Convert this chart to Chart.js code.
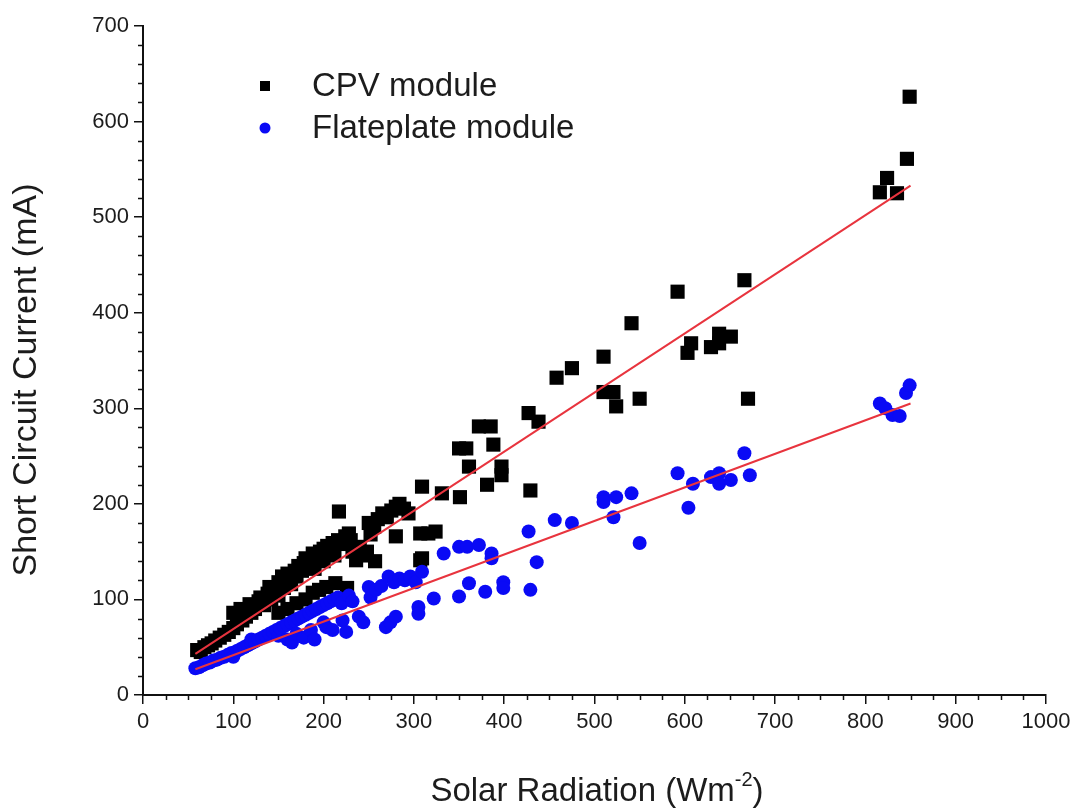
<!DOCTYPE html>
<html>
<head>
<meta charset="utf-8">
<script src="https://cdn.jsdelivr.net/npm/chart.js@4.4.1/dist/chart.umd.min.js"></script>
<style>
  html,body{margin:0;padding:0;background:#fff}
  #wrap{width:1088px;height:810px}
</style>
</head>
<body>
<div id="wrap"><canvas id="c" width="1088" height="810"></canvas></div>
<script>
/* Short circuit current vs solar radiation — CPV vs flat plate */
const seriesNames = ['CPV module', 'Flateplate module'];
const xLabel = ['Solar Radiation (Wm', '-2', ')'];   // text, superscript, tail
const yLabel = 'Short Circuit Current (mA)';

// CPV module (black squares)
const cpvX = [60,64,68,72,76,80,85,90,95,100,100,104,108,110,114,118,120,124,128,130,134,138,140,142,146,150,150,154,156,160,
  160,164,168,170,172,176,178,180,184,188,190,192,196,200,200,204,208,210,212,216,217,220,224,228,230,232,236,240,244,248,
  250,252,256,260,265,270,275,280,284,289,294,280,309,307,324,307,316,331,351,350,358,361,372,385,388,381,397,397,427,438,
  429,458,475,510,541,510,521,524,550,592,603,607,629,638,651,638,666,670,816,824,835,846,849,
  150,160,170,180,188,195,203,213,226,257,309];
const cpvY = [47,45,50,52,54,57,60,63,66,86,70,74,90,78,82,95,86,90,98,102,94,106,113,100,110,118,104,124,112,120,
  127,116,130,124,135,130,138,143,136,148,132,144,150,153,140,156,150,159,146,162,192,158,166,169,162,150,141,155,146,150,
  180,168,176,184,190,186,193,197,200,195,190,166,218,169,171,141,169,211,207,258,258,239,281,281,262,220,239,230,295,286,
  214,332,342,354,389,317,317,302,310,422,358,368,364,378,375,368,434,310,526,541,525,561,626,
  86,90,96,100,107,110,113,117,112,140,143];

// Flateplate module (blue circles)
const flatX = [58,62,66,70,74,78,82,86,90,94,98,100,104,108,112,116,120,120,124,128,132,136,140,144,148,150,152,156,160,160,
  164,165,168,170,172,176,178,180,184,186,188,190,192,196,200,200,203,204,208,210,212,216,220,221,225,228,232,239,244,250,
  252,258,264,269,272,274,278,280,284,290,296,302,305,305,309,322,333,350,350,359,361,372,379,386,386,399,399,427,429,436,
  456,475,510,510,521,524,541,550,592,604,609,629,638,638,651,666,672,816,822,830,838,845,849];
const flatY = [28,29,31,33,34,36,37,39,40,42,44,40,46,48,50,52,54,58,56,58,60,62,64,66,68,62,70,72,58,74,
  76,55,78,64,80,82,60,84,86,68,88,58,90,92,76,94,71,96,98,68,100,102,96,78,66,104,98,82,76,113,
  102,110,114,71,124,76,118,82,122,120,124,118,92,85,129,101,148,155,103,155,117,157,108,148,143,118,112,171,110,139,
  183,180,207,202,186,207,211,159,232,196,221,228,232,221,225,253,230,305,300,293,292,316,324];

// linear fits (end points)
const cpvFitX = [58, 850];
const cpvFitY = [43, 533];
const flatFitX = [58, 850];
const flatFitY = [27, 305];

// axis ticks
const xMajor = [0,100,200,300,400,500,600,700,800,900,1000];
const yMajor = [0,100,200,300,400,500,600,700];

const INK = '#111', TXT = '#1c1c1c', BLUE = '#0a0af5', RED = '#e8343e';
const FONT = "'Liberation Sans', Arial, sans-serif";

const pts = (xs, ys) => xs.map((x, i) => ({x, y: ys[i]}));

// minor tick marks (25 on x, 20 on y), outward like the majors
const minorTicks = {
  id: 'minorTicks',
  afterDraw(chart) {
    const {ctx, scales: {x, y}} = chart;
    ctx.save();
    ctx.strokeStyle = INK; ctx.lineWidth = 1.5;
    ctx.beginPath();
    for (let v = 25; v < 1000; v += 25) {
      if (v % 100 === 0) continue;
      const px = Math.round(x.getPixelForValue(v)) + .5;
      ctx.moveTo(px, y.bottom); ctx.lineTo(px, y.bottom + 5);
    }
    for (let v = 20; v < 700; v += 20) {
      if (v % 100 === 0) continue;
      const py = Math.round(y.getPixelForValue(v)) + .5;
      ctx.moveTo(x.left, py); ctx.lineTo(x.left - 5, py);
    }
    ctx.stroke();
    ctx.restore();
  }
};

// legend in the upper-left of the plot, like the original
const legendBox = {
  id: 'legendBox',
  afterDraw(chart) {
    const {ctx} = chart;
    const ds = chart.data.datasets.filter(d => d.type === 'scatter');
    ctx.save();
    ctx.font = '33px ' + FONT;
    ctx.textBaseline = 'middle';
    ds.forEach((d, i) => {
      const cy = 86 + i * 42;
      ctx.fillStyle = d.backgroundColor;
      if (d.pointStyle === 'rect') ctx.fillRect(260, cy - 5, 10, 10);
      else { ctx.beginPath(); ctx.arc(265, cy, 5.5, 0, Math.PI * 2); ctx.fill(); }
      ctx.fillStyle = TXT;
      ctx.fillText(d.label, 312, cy + 1);
    });
    ctx.restore();
  }
};

// axis titles (x one has a superscript exponent)
const axisTitles = {
  id: 'axisTitles',
  afterDraw(chart) {
    const {ctx} = chart;
    ctx.save();
    ctx.fillStyle = TXT;
    ctx.textBaseline = 'alphabetic';
    const big = '33px ' + FONT, small = '20px ' + FONT;
    ctx.font = big;
    const wa = ctx.measureText(xLabel[0]).width, wb = ctx.measureText(xLabel[2]).width;
    ctx.font = small;
    const ws = ctx.measureText(xLabel[1]).width;
    const left = 597 - (wa + ws + wb) / 2, base = 801;
    ctx.font = big;  ctx.fillText(xLabel[0], left, base);
    ctx.font = small; ctx.fillText(xLabel[1], left + wa, base - 15);
    ctx.font = big;  ctx.fillText(xLabel[2], left + wa + ws, base);

    ctx.translate(27, 380);
    ctx.rotate(-Math.PI / 2);
    ctx.font = '34px ' + FONT;
    ctx.textAlign = 'center';
    ctx.textBaseline = 'middle';
    ctx.fillText(yLabel, 0, 0);
    ctx.restore();
  }
};

new Chart(document.getElementById('c'), {
  data: {
    datasets: [
      {type: 'line', label: 'cpv fit', data: pts(cpvFitX, cpvFitY), borderColor: RED, borderWidth: 2, pointRadius: 0, order: 0},
      {type: 'line', label: 'flat fit', data: pts(flatFitX, flatFitY), borderColor: RED, borderWidth: 2, pointRadius: 0, order: 0},
      {type: 'scatter', label: seriesNames[0], data: pts(cpvX, cpvY), pointStyle: 'rect', pointRadius: 10,
        backgroundColor: '#000', borderWidth: 0, order: 2},
      {type: 'scatter', label: seriesNames[1], data: pts(flatX, flatY), pointStyle: 'circle', pointRadius: 7,
        backgroundColor: BLUE, borderWidth: 0, order: 1}
    ]
  },
  options: {
    responsive: false,
    animation: false,
    layout: {padding: {top: 26, right: 42, bottom: 0, left: 0}},
    plugins: {legend: {display: false}, tooltip: {enabled: false}},
    scales: {
      x: {
        type: 'linear', min: 0, max: 1000,
        afterBuildTicks: s => { s.ticks = xMajor.map(v => ({value: v})); },
        afterFit: s => { s.height = 115; },
        grid: {drawOnChartArea: false, tickLength: 9, color: INK, lineWidth: 1.5},
        border: {color: INK, width: 2},
        ticks: {color: TXT, font: {family: FONT, size: 22}, padding: 5, maxRotation: 0, callback: v => String(v)}
      },
      y: {
        type: 'linear', min: 0, max: 700,
        afterBuildTicks: s => { s.ticks = yMajor.map(v => ({value: v})); },
        afterFit: s => { s.width = 143; },
        grid: {drawOnChartArea: false, tickLength: 9, color: INK, lineWidth: 1.5},
        border: {color: INK, width: 2},
        ticks: {color: TXT, font: {family: FONT, size: 22}, padding: 5, callback: v => String(v)}
      }
    }
  },
  plugins: [minorTicks, legendBox, axisTitles]
});
</script>
</body>
</html>
